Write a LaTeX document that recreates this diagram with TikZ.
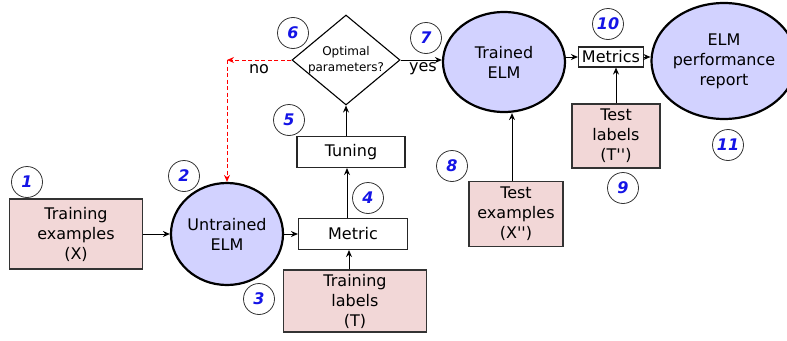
\documentclass[tikz,border=0pt]{standalone}
\usepackage{fontspec}
\setmainfont{DejaVu Sans}[Ligatures=TeXOff]
\usetikzlibrary{shapes.geometric,arrows.meta}
\definecolor{datafill}{RGB}{242,215,215}
\definecolor{elmfill}{RGB}{210,210,255}
\definecolor{numblue}{RGB}{20,20,230}
\tikzset{
  every node/.style={font=\fontsize{16}{20}\selectfont, align=center, inner sep=0pt},
  databox/.style={draw=black!80, line width=1.2pt, fill=datafill, minimum width=#1},
  procbox/.style={draw=black!85, line width=1.1pt, fill=white},
  elm/.style={ellipse, draw=black, line width=2.2pt, fill=elmfill},
  stepnum/.style={circle, draw=black!80, line width=0.8pt, minimum size=31pt,
    text=numblue, font=\fontsize{16}{16}\selectfont\bfseries\itshape},
  flow/.style={draw=black, line width=1pt, -{Stealth[length=7pt,width=6pt]}},
  nopath/.style={draw=red, line width=1pt, dash pattern=on 4pt off 2.5pt, -{Stealth[length=7pt,width=6pt]}},
}
\begin{document}
\begin{tikzpicture}[x=1pt,y=-1pt]
\useasboundingbox (0,0) rectangle (787,340);

% data inputs
\node[databox=133pt, minimum height=70pt] (trainx) at (76,234) {Training\\examples\\(X)};
\node[databox=143pt, minimum height=62pt] (trainy) at (355,301) {Training\\labels\\(T)};
\node[databox=94pt, minimum height=65pt] (testx) at (516,214) {Test\\examples\\(X'')};
\node[databox=88pt, minimum height=64pt] (testy) at (616,136) {Test\\labels\\(T'')};

% models and report
\node[elm, minimum width=112pt, minimum height=102pt] (untrained) at (227,234) {Untrained\\ELM};
\node[elm, minimum width=122pt, minimum height=100pt] (trained) at (504,62) {Trained\\ELM};
\node[elm, minimum width=124pt, minimum height=116pt] (report) at (724,61) {ELM\\performance\\report};

% processing steps
\node[procbox, minimum width=109pt, minimum height=31pt] (metric) at (353,234) {Metric};
\node[procbox, minimum width=108pt, minimum height=31pt] (tuning) at (351,152) {Tuning};
\node[procbox, minimum width=65pt, minimum height=20pt] (metrics) at (611,57) {Metrics};
\node[diamond, aspect=1.2, inner xsep=-4pt, draw=black, line width=1.1pt, fill=white,
  minimum width=108pt, minimum height=90pt,
  font=\fontsize{12}{16}\selectfont] (optimal) at (346,60) {Optimal\\parameters?};

% step numbers
\node[stepnum] (n1) at (27,182) {1};
\node[stepnum] (n2) at (184,176) {2};
\node[stepnum] (n3) at (259,299) {3};
\node[stepnum] (n4) at (368,198) {4};
\node[stepnum] (n5) at (289,120) {5};
\node[stepnum] (n6) at (293,33) {6};
\node[stepnum] (n7) at (426,38) {7};
\node[stepnum] (n8) at (452,166) {8};
\node[stepnum] (n9) at (623,188) {9};
\node[stepnum] (n10) at (608,24) {10};
\node[stepnum] (n11) at (728,145) {11};

% connectors
\draw[flow] (trainx.east) -- (untrained.west);
\draw[flow] (untrained.east) -- (metric.west);
\draw[flow] (trainy.north -| 349,0) -- (metric.south -| 349,0);
\draw[flow] (metric.north -| 347,0) -- (tuning.south -| 347,0);
\draw[flow] (tuning.north -| optimal.south) -- (optimal.south);
\draw[flow] (optimal.east) -- (trained.west |- optimal.east);
\draw[flow] (trained.east |- metrics.west) -- (metrics.west);
\draw[flow] (metrics.east) -- (report.west |- metrics.east);
\draw[flow] (testx.north -| 512,0) -- (trained.south -| 512,0);
\draw[flow] (testy.north) -- (metrics.south -| testy.north);

% rejection loop back to the untrained model
\coordinate (loop) at (227,60);
\draw[nopath] (optimal.west) -- (loop);
\draw[nopath] (loop) -- (untrained.north);

\node (nolabel) at (259,69) {no};
\node (yeslabel) at (423,69) {yes};
\end{tikzpicture}
\end{document}
